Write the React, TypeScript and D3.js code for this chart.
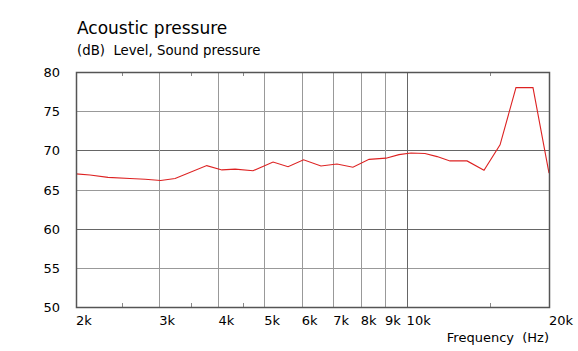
import React, { useEffect, useRef } from "react";
import * as d3 from "d3";

// frequency (Hz) and level (dB)
const freqs = [
  2000, 2141, 2337, 2600, 2800, 3020, 3240, 3780, 4070, 4340, 4735, 5220,
  5615, 6055, 6590, 7125, 7700, 8330, 9045, 9635, 10215, 10935, 11600, 12350,
  13420, 14575, 15760, 17030, 18500, 20000,
];
const levels = [
  67.0, 66.85, 66.55, 66.4, 66.3, 66.15, 66.4, 68.05, 67.5, 67.6, 67.4, 68.5,
  67.9, 68.8, 68.0, 68.25, 67.85, 68.85, 69.0, 69.45, 69.65, 69.6, 69.2, 68.65,
  68.65, 67.45, 70.7, 78.0, 78.0, 67.1,
];

const yTicks = [50, 55, 60, 65, 70, 75, 80];
const yMajor = [60, 70];
const xTicks = [2000, 3000, 4000, 5000, 6000, 7000, 8000, 9000, 10000, 20000];
const xTickLabels = ["2k", "3k", "4k", "5k", "6k", "7k", "8k", "9k", "10k", "20k"];
const xMinor = [2500, 3500, 4500, 15000];

const title = "Acoustic pressure";
const subtitle = "(dB)  Level, Sound pressure";
const xTitle = "Frequency  (Hz)";

export default function App() {
  const svgRef = useRef<SVGSVGElement>(null);
  const width = 578;
  const height = 351;

  useEffect(() => {
    const svg = d3.select(svgRef.current);
    svg.selectAll("*").remove();

    const margin = { top: 72, right: 29, bottom: 44, left: 76 };
    const font = "Tahoma, 'DejaVu Sans', sans-serif";

    const x = d3
      .scaleLog()
      .domain([2000, 20000])
      .range([margin.left, width - margin.right]);
    const y = d3
      .scaleLinear()
      .domain([50, 80])
      .range([height - margin.bottom, margin.top]);

    const [x0, x1] = x.range();
    const [y0, y1] = y.range();

    // horizontal grid
    svg
      .append("g")
      .selectAll("line")
      .data(yTicks.filter((t) => t !== 50 && t !== 80))
      .join("line")
      .attr("x1", x0)
      .attr("x2", x1)
      .attr("y1", (d) => Math.round(y(d)) + 0.5)
      .attr("y2", (d) => Math.round(y(d)) + 0.5)
      .attr("stroke", (d) => (yMajor.includes(d) ? "#666" : "#999"))
      .attr("stroke-width", 1);

    // vertical grid
    svg
      .append("g")
      .selectAll("line")
      .data(xTicks.filter((t) => t !== 2000 && t !== 20000))
      .join("line")
      .attr("x1", (d) => Math.round(x(d)) + 0.5)
      .attr("x2", (d) => Math.round(x(d)) + 0.5)
      .attr("y1", y1)
      .attr("y2", y0)
      .attr("stroke", (d) => (d === 10000 ? "#666" : "#999"))
      .attr("stroke-width", 1);

    // minor ticks at top and bottom
    xMinor.forEach((f) => {
      const px = Math.round(x(f)) + 0.5;
      svg.append("line").attr("x1", px).attr("x2", px).attr("y1", y1).attr("y2", y1 + 4).attr("stroke", "#888");
      svg.append("line").attr("x1", px).attr("x2", px).attr("y1", y0).attr("y2", y0 - 4).attr("stroke", "#888");
    });

    // curve
    const line = d3
      .line<number>()
      .x((d, i) => x(freqs[i]))
      .y((d) => y(d));

    svg
      .append("path")
      .datum(levels)
      .attr("fill", "none")
      .attr("stroke", "#dd2222")
      .attr("stroke-width", 1.1)
      .attr("d", line);

    // frame
    svg
      .append("rect")
      .attr("x", x0 + 0.5)
      .attr("y", y1 + 0.5)
      .attr("width", x1 - x0)
      .attr("height", y0 - y1)
      .attr("fill", "none")
      .attr("stroke", "#555")
      .attr("stroke-width", 1.5);

    // y labels
    svg
      .append("g")
      .selectAll("text")
      .data(yTicks)
      .join("text")
      .attr("x", 60)
      .attr("y", (d) => y(d) + 5)
      .attr("text-anchor", "end")
      .style("font-family", font)
      .style("font-size", "13px")
      .text((d) => d);

    // x labels
    svg
      .append("g")
      .selectAll("text")
      .data(xTicks)
      .join("text")
      .attr("x", (d) => x(d))
      .attr("y", 325)
      .attr("text-anchor", "start")
      .style("font-family", font)
      .style("font-size", "13px")
      .text((d, i) => xTickLabels[i]);

    svg
      .append("text")
      .attr("x", x1)
      .attr("y", 342)
      .attr("text-anchor", "end")
      .style("font-family", font)
      .style("font-size", "13px")
      .style("white-space", "pre")
      .text(xTitle);

    svg
      .append("text")
      .attr("x", 77)
      .attr("y", 34)
      .style("font-family", font)
      .style("font-size", "17px")
      .text(title);

    svg
      .append("text")
      .attr("x", 77)
      .attr("y", 55)
      .style("font-family", font)
      .style("font-size", "13.3px")
      .style("white-space", "pre")
      .text(subtitle);
  }, []);

  return (
    <svg
      ref={svgRef}
      width={width}
      height={height}
      style={{ position: "absolute", left: 0, top: 0, background: "#fff" }}
    ></svg>
  );
}
